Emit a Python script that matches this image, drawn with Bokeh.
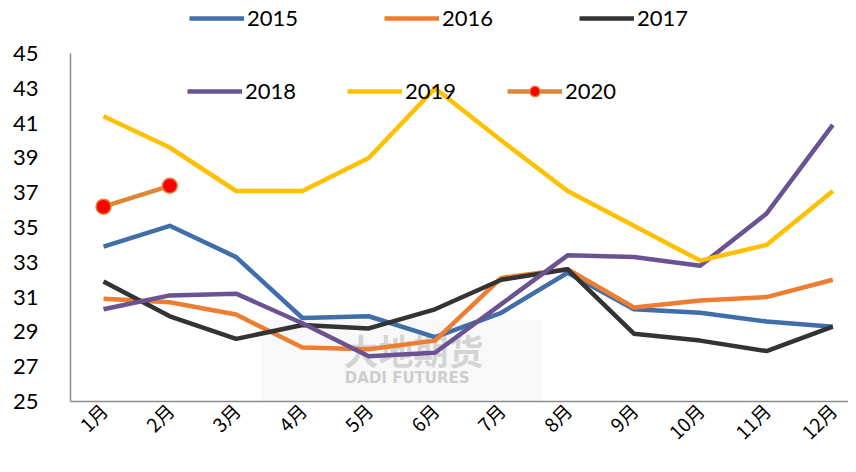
from bokeh.plotting import figure
from bokeh.models import Range1d, FixedTicker, Legend, LegendItem, Label, BoxAnnotation
from bokeh.embed import file_html
from bokeh.resources import INLINE

months = ["1月", "2月", "3月", "4月", "5月", "6月", "7月", "8月", "9月", "10月", "11月", "12月"]
month_idx = list(range(1, 13))
y2015 = [33.9, 35.1, 33.3, 29.8, 29.9, 28.7, 30.1, 32.4, 30.3, 30.1, 29.6, 29.3]
y2016 = [30.9, 30.7, 30.0, 28.1, 28.0, 28.5, 32.1, 32.6, 30.4, 30.8, 31.0, 32.0]
y2017 = [31.9, 29.9, 28.6, 29.4, 29.2, 30.3, 32.0, 32.6, 28.9, 28.5, 27.9, 29.3]
y2018 = [30.3, 31.1, 31.2, 29.5, 27.6, 27.8, 30.6, 33.4, 33.3, 32.8, 35.8, 40.9]
y2019 = [41.4, 39.6, 37.1, 37.1, 39.0, 43.0, 40.0, 37.1, 35.1, 33.1, 34.0, 37.1]
y2020 = [36.2, 37.4]
y_ticks = [25, 27, 29, 31, 33, 35, 37, 39, 41, 43, 45]

p = figure(width=848, height=456, output_backend="svg", toolbar_location=None,
           x_range=Range1d(0.502, 12.237), y_range=Range1d(25, 48.05),
           min_border_left=70, min_border_right=0, min_border_top=0, min_border_bottom=55)
p.outline_line_color = None
p.grid.visible = False
p.background_fill_color = "white"

# watermark
p.add_layout(BoxAnnotation(left=3.37, right=7.6, bottom=25, top=29.7, fill_color="#f4f4f4",
                           fill_alpha=0.6, line_color=None, level="underlay"))
p.add_layout(Label(x=4.62, y=26.5, text="大地期货", text_font="Noto Sans CJK SC",
                   text_font_size="35px", text_font_style="bold", text_color="#b5b5b5",
                   text_alpha=0.55, level="underlay"))
p.add_layout(Label(x=4.64, y=25.85, text="DADI FUTURES", text_font="DejaVu Sans",
                   text_font_size="15px", text_font_style="bold", text_color="#a8a8a8",
                   text_alpha=0.55, level="underlay"))

lw = 4.5
r15 = p.line(month_idx, y2015, line_color="#3F6EA8", line_width=lw, line_join="round")
r16 = p.line(month_idx, y2016, line_color="#ED7D31", line_width=lw, line_join="round")
r17 = p.line(month_idx, y2017, line_color="#333333", line_width=lw, line_join="round")
r18 = p.line(month_idx, y2018, line_color="#6B5293", line_width=lw, line_join="round")
r19 = p.line(month_idx, y2019, line_color="#FFC000", line_width=lw, line_join="round")
r20 = p.line(month_idx[:len(y2020)], y2020, line_color="#DE8538", line_width=lw, line_join="round")
r20m = p.scatter(month_idx[:len(y2020)], y2020, size=15, fill_color="#FF0000",
                 line_color="#DE8538", line_width=1.5)

for ax in (p.xaxis[0], p.yaxis[0]):
    ax.axis_line_color = "#8c8c8c"
    ax.axis_line_width = 1.5
    ax.major_tick_line_color = None
    ax.minor_tick_line_color = None
    ax.major_tick_out = 0
    ax.major_tick_in = 0

p.yaxis.bounds = (25, 45)
p.yaxis.ticker = FixedTicker(ticks=y_ticks)
p.yaxis.major_label_text_font = "Lato"
p.yaxis.major_label_text_font_size = "22px"
p.yaxis.major_label_text_color = "black"
p.yaxis.major_label_standoff = 32

p.xaxis.ticker = FixedTicker(ticks=month_idx)
p.xaxis.major_label_overrides = {m: lab for m, lab in zip(month_idx, months)}
p.xaxis.major_label_orientation = 0.785398
p.xaxis.major_label_text_font = "Noto Sans CJK SC"
p.xaxis.major_label_text_font_size = "19px"
p.xaxis.major_label_text_color = "black"
p.xaxis.major_label_standoff = 5

def mk_legend(items, loc, spacing):
    lg = Legend(items=items, orientation="horizontal", location=loc,
                glyph_width=55, glyph_height=26, label_height=26, label_width=52,
                label_standoff=3, spacing=spacing, padding=0, margin=0,
                label_text_font="Lato", label_text_font_size="22px",
                label_text_color="black", background_fill_alpha=0,
                border_line_alpha=0)
    return lg

leg1 = mk_legend([LegendItem(label="2015", renderers=[r15]),
                  LegendItem(label="2016", renderers=[r16]),
                  LegendItem(label="2017", renderers=[r17])], (119, 370), 85)
leg2 = mk_legend([LegendItem(label="2018", renderers=[r18]),
                  LegendItem(label="2019", renderers=[r19]),
                  LegendItem(label="2020", renderers=[r20, r20m])], (117, 297), 50)
p.add_layout(leg1, "center")
p.add_layout(leg2, "center")

open("out.html", "w").write(file_html(p, INLINE))
